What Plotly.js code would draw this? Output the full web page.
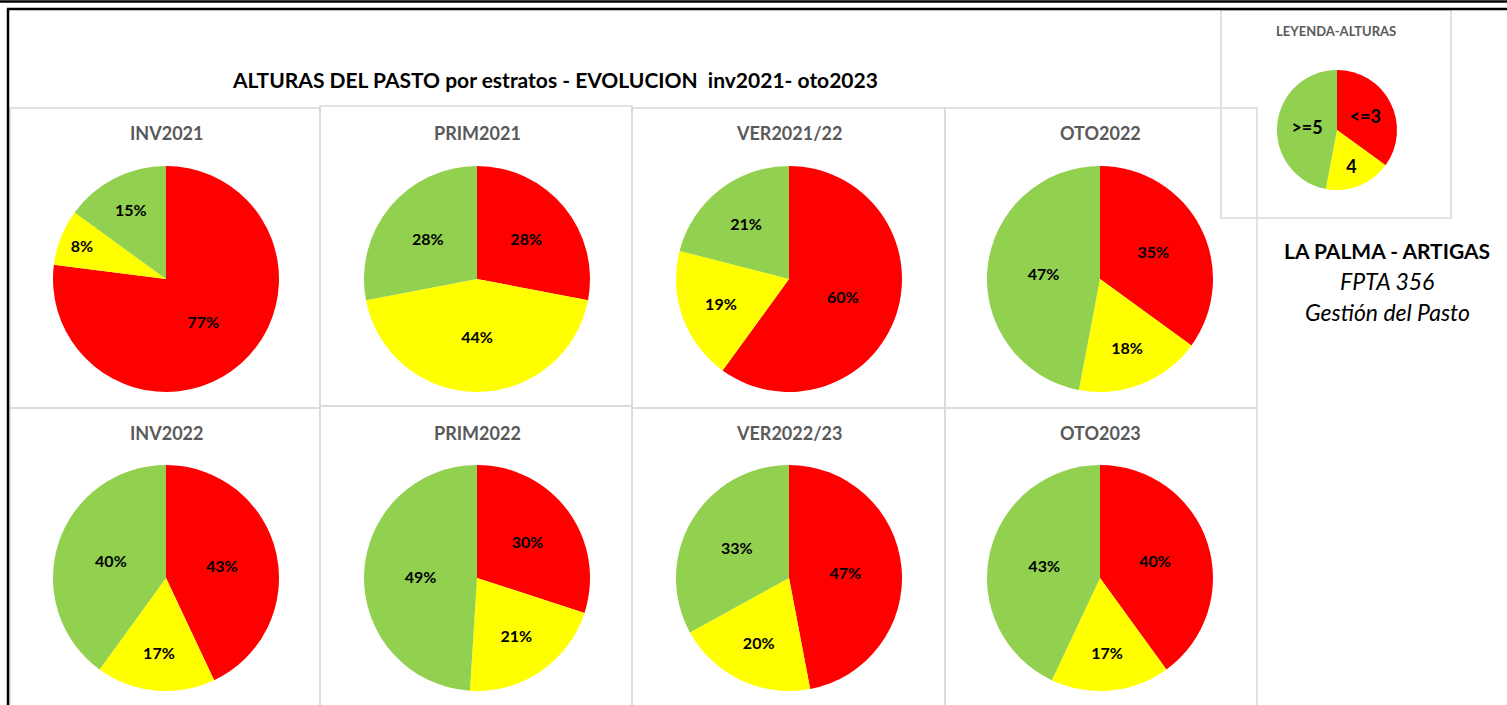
<!DOCTYPE html>
<html>
<head>
<meta charset="utf-8">
<script src="https://cdn.plot.ly/plotly-3.0.1.min.js"></script>
<style>
html,body{margin:0;padding:0;background:#fff;}
#chart{width:1507px;height:705px;}
</style>
</head>
<body>
<div id="chart"></div>
<script>
// ---- DATA ----
const seasons = ["INV2021","PRIM2021","VER2021/22","OTO2022","INV2022","PRIM2022","VER2022/23","OTO2023"];
const strata = ["<=3","4",">=5"];
const low  = [77, 28, 60, 35, 43, 30, 47, 40];   // <=3 (red)
const mid  = [8, 44, 19, 18, 17, 21, 20, 17];    // 4 (yellow)
const high = [15, 28, 21, 47, 40, 49, 33, 43];   // >=5 (green)
const legendValues = [35, 18, 47];
const mainTitle = "ALTURAS DEL PASTO por estratos - EVOLUCION  inv2021- oto2023";
const legendTitle = "LEYENDA-ALTURAS";
const sideText = ["LA PALMA - ARTIGAS", "FPTA 356", "Gestión del Pasto"];

// ---- LAYOUT / STYLE ----
const W = 1507, H = 705;
const FONT = "Lato, 'Open Sans', sans-serif";
const colors = ["#FF0000", "#FFFF00", "#92D050"];
const colX = [166, 477, 789, 1100];
const rowY = [279, 578];
const titleY = [133, 433];
const R = 113;
const px = x => x / W;
const py = y => 1 - y / H;

const traces = [];
const annotations = [];
seasons.forEach((s, i) => {
  const cx = colX[i % 4], cy = rowY[Math.floor(i / 4)];
  traces.push({
    type: "pie",
    values: [low[i], mid[i], high[i]],
    labels: strata,
    sort: false,
    direction: "clockwise",
    rotation: 0,
    marker: {colors: colors, line: {width: 0}},
    texttemplate: "%{value}%",
    textposition: "inside",
    insidetextorientation: "horizontal",
    textfont: {family: FONT, size: 16, color: "#000", weight: "bold"},
    hoverinfo: "label+percent",
    showlegend: false,
    domain: {x: [px(cx - R), px(cx + R)], y: [py(cy + R), py(cy - R)]}
  });
  annotations.push({
    text: "<b>" + s + "</b>", xref: "paper", yref: "paper",
    x: px(cx), y: py(titleY[Math.floor(i / 4)]), showarrow: false,
    xanchor: "center", yanchor: "middle",
    font: {family: FONT, size: 18, color: "#595959"}
  });
});

// legend pie
const LR = 60, lcx = 1337, lcy = 130;
traces.push({
  type: "pie",
  values: legendValues,
  labels: strata,
  sort: false, direction: "clockwise", rotation: 0,
  marker: {colors: colors, line: {width: 0}},
  textinfo: "label",
  textposition: "inside",
  insidetextorientation: "horizontal",
  textfont: {family: FONT, size: 18, color: "#000", weight: "bold"},
  showlegend: false,
  domain: {x: [px(lcx - LR), px(lcx + LR)], y: [py(lcy + LR), py(lcy - LR)]}
});

annotations.push({
  text: "<b>" + mainTitle + "</b>", xref: "paper", yref: "paper",
  x: px(555), y: py(80), showarrow: false, xanchor: "center", yanchor: "middle",
  font: {family: FONT, size: 21, color: "#000"}
});
annotations.push({
  text: "<b>" + legendTitle + "</b>", xref: "paper", yref: "paper",
  x: px(1336), y: py(31), showarrow: false, xanchor: "center", yanchor: "middle",
  font: {family: FONT, size: 13, color: "#595959"}
});
annotations.push({
  text: "<b>" + sideText[0] + "</b>", xref: "paper", yref: "paper",
  x: px(1387), y: py(250), showarrow: false, xanchor: "center", yanchor: "middle",
  font: {family: FONT, size: 21, color: "#000"}
});
annotations.push({
  text: "<i>" + sideText[1] + "</i>", xref: "paper", yref: "paper",
  x: px(1387), y: py(281), showarrow: false, xanchor: "center", yanchor: "middle",
  font: {family: FONT, size: 23, color: "#000"}
});
annotations.push({
  text: "<i>" + sideText[2] + "</i>", xref: "paper", yref: "paper",
  x: px(1387), y: py(312), showarrow: false, xanchor: "center", yanchor: "middle",
  font: {family: FONT, size: 23, color: "#000"}
});

// frame + panel borders
const shapes = [];
const rect = (x0, y0, x1, y1, color, w) => shapes.push({
  type: "rect", xref: "paper", yref: "paper",
  x0: px(x0), x1: px(x1), y0: py(y1), y1: py(y0),
  line: {color: color, width: w}, fillcolor: "rgba(0,0,0,0)", layer: "below"
});
const line = (x0, y0, x1, y1, color, w) => shapes.push({
  type: "line", xref: "paper", yref: "paper",
  x0: px(x0), x1: px(x1), y0: py(y0), y1: py(y1),
  line: {color: color, width: w}
});
const G = "#D9D9D9";
rect(10, 108, 320, 408, G, 1.5);
rect(320, 106, 632, 406, G, 1.5);
rect(632, 108, 945, 408, G, 1.5);
rect(945, 108, 1257, 408, G, 1.5);
rect(10, 408, 320, 710, G, 1.5);
rect(320, 406, 632, 710, G, 1.5);
rect(632, 408, 945, 710, G, 1.5);
rect(945, 408, 1257, 710, G, 1.5);
rect(1221, 10, 1451, 218, G, 1.5);
line(0, 1.5, W, 1.5, "#000", 2.5);
line(7, 9, W, 9, "#000", 2.5);
line(8, 9, 8, H, "#000", 2.5);

Plotly.newPlot("chart", traces, {
  width: W, height: H,
  margin: {l: 0, r: 0, t: 0, b: 0},
  paper_bgcolor: "#fff",
  plot_bgcolor: "#fff",
  font: {family: FONT},
  annotations: annotations,
  shapes: shapes
}, {displayModeBar: false, staticPlot: true});
</script>
</body>
</html>
